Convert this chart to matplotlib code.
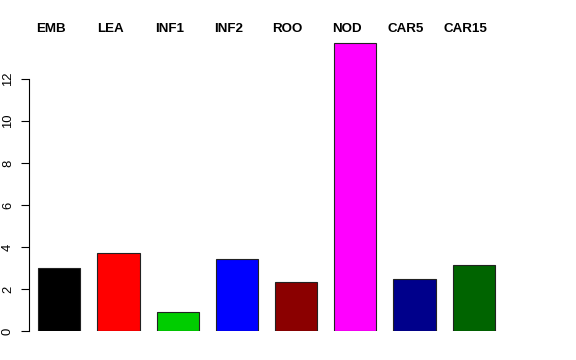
import matplotlib
matplotlib.use('Agg')
import matplotlib.pyplot as plt
import numpy as np

# data
labels = ['EMB', 'LEA', 'INF1', 'INF2', 'ROO', 'NOD', 'CAR5', 'CAR15']
values = [3.0, 3.73, 0.92, 3.44, 2.33, 13.7, 2.49, 3.16]
colors = ['#000000', '#FF0000', '#00CD00', '#0000FF', '#8B0000', '#FF00FF', '#00008B', '#006400']

plt.rcParams['font.family'] = ['Liberation Sans', 'DejaVu Sans']

W, H = 576, 360
fig = plt.figure(figsize=(W / 100, H / 100), dpi=100)

# plot region in pixels: left edge = y axis line, bottom = value 0
first_px, step_px = 59.3, 59.2
left_px, right_px = 29, 545
bottom_px = 331
top_px = 331 - 14 * 21
ax = fig.add_axes([left_px / W, (H - bottom_px) / H,
                   (right_px - left_px) / W, (bottom_px - top_px) / H])

x = np.arange(len(labels))
ax.bar(x, values, width=0.71, color=colors, edgecolor='#222222', linewidth=0.8)

ax.set_xlim((left_px - first_px) / step_px, (right_px - first_px) / step_px)
ax.set_ylim(0, 14)

for s in ['top', 'right', 'bottom']:
    ax.spines[s].set_visible(False)
ax.spines['left'].set_bounds(0, 12)
ax.spines['left'].set_linewidth(0.8)
ax.set_xticks([])
ax.set_yticks([0, 2, 4, 6, 8, 10, 12])
ax.tick_params(axis='y', length=5.8, width=0.8, pad=5, labelsize=9.4)
for t in ax.get_yticklabels():
    t.set_rotation(90)
    t.set_va('center')

# group names along the top, a bit left of each bar centre
for i, lab in enumerate(labels):
    fig.text((first_px + step_px * i - 8.5) / W, 1 - 29.5 / H, lab,
             ha='center', va='center', fontsize=9.6, fontweight='bold')

fig.savefig('out.png', dpi=100)
